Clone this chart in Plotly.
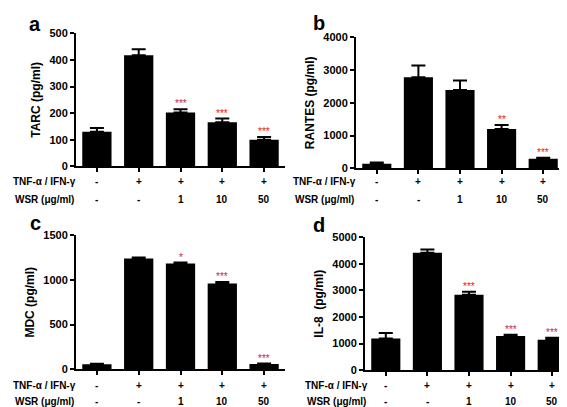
import plotly.graph_objects as go

groups = [0, 1, 2, 3, 4]
tnf_row = ["-", "+", "+", "+", "+"]
wsr_row = ["-", "-", "1", "10", "50"]

tarc = [130, 418, 203, 166, 100]
tarc_err = [14, 22, 12, 14, 10]
tarc_sig = ["", "", "***", "***", "***"]

rantes = [140, 2780, 2390, 1200, 290]
rantes_err = [40, 360, 290, 120, 30]
rantes_sig = ["", "", "", "**", "***"]

mdc = [55, 1240, 1185, 960, 58]
mdc_err = [5, 10, 10, 18, 5]
mdc_sig = ["", "", "*", "***", "***"]

il8 = [1195, 4420, 2840, 1290, 1145]
il8_err = [200, 120, 110, 40, 70]
il8_sig = ["", "", "***", "***", "***"]

W, H = 567, 407
FONT = "Liberation Sans, Arial, sans-serif"

panels = [
    dict(letter="a", vals=tarc, err=tarc_err, sig=tarc_sig, title="TARC (pg/ml)",
         ymax=500, dtick=100, x0=68, x1=277, ytop=20, ybot=157,
         rows_y=(173, 191), lab_x=3, let_xy=(27, 10)),
    dict(letter="b", vals=rantes, err=rantes_err, sig=rantes_sig, title="RANTES (pg/ml)",
         ymax=4000, dtick=1000, x0=348, x1=556, ytop=24, ybot=159,
         rows_y=(173, 191), lab_x=283, let_xy=(311, 9)),
    dict(letter="c", vals=mdc, err=mdc_err, sig=mdc_sig, title="MDC (pg/ml)",
         ymax=1500, dtick=500, x0=68, x1=277, ytop=228, ybot=366,
         rows_y=(383, 399), lab_x=3, let_xy=(27, 215)),
    dict(letter="d", vals=il8, err=il8_err, sig=il8_sig, title="IL-8  (pg/ml)",
         ymax=5000, dtick=1000, x0=357, x1=565, ytop=230, ybot=367,
         rows_y=(383, 399), lab_x=295, let_xy=(311, 217)),
]

fig = go.Figure()
annotations = []
for i, p in enumerate(panels):
    n = i + 1
    xa = "x" if n == 1 else f"x{n}"
    ya = "y" if n == 1 else f"y{n}"
    fig.add_trace(go.Bar(
        x=groups, y=p["vals"], width=0.7, xaxis=xa, yaxis=ya,
        marker=dict(color="black", line=dict(width=0)),
        error_y=dict(type="data", symmetric=False, array=p["err"],
                     arrayminus=[0] * 5, color="black", thickness=2, width=7),
        showlegend=False,
    ))
    axkey = "xaxis" if n == 1 else f"xaxis{n}"
    aykey = "yaxis" if n == 1 else f"yaxis{n}"
    fig.layout[axkey] = dict(
        domain=[p["x0"] / W, p["x1"] / W], range=[-0.5, 4.5], anchor=ya,
        showline=True, linecolor="black", linewidth=2, showgrid=False, zeroline=False,
        ticks="outside", ticklen=4, tickwidth=2, tickcolor="black",
        tickvals=groups, showticklabels=False, fixedrange=True,
    )
    fig.layout[aykey] = dict(
        domain=[1 - p["ybot"] / H, 1 - p["ytop"] / H], range=[0, p["ymax"]], anchor=xa,
        dtick=p["dtick"], showline=True, linecolor="black", linewidth=2,
        showgrid=False, zeroline=False, ticks="outside", ticklen=4, tickwidth=2,
        tickcolor="black", tickfont=dict(family=FONT, size=11, color="black", weight="bold"),
        title=dict(text=p["title"], font=dict(family=FONT, size=12, color="black", weight="bold"),
                   standoff=6),
    )
    # significance stars
    for g, v, e, s in zip(groups, p["vals"], p["err"], p["sig"]):
        if s:
            annotations.append(dict(x=g, y=v + e, xref=xa, yref=ya, text=s, showarrow=False,
                                    yanchor="bottom", yshift=-2,
                                    font=dict(family=FONT, size=10, color="#e3191c")))
    # treatment rows
    for g, t, w in zip(groups, tnf_row, wsr_row):
        annotations.append(dict(x=g, y=1 - p["rows_y"][0] / H, xref=xa, yref="paper", text=t,
                                showarrow=False, yanchor="middle",
                                font=dict(family=FONT, size=10, color="black", weight="bold")))
        annotations.append(dict(x=g, y=1 - p["rows_y"][1] / H, xref=xa, yref="paper", text=w,
                                showarrow=False, yanchor="middle",
                                font=dict(family=FONT, size=10, color="black", weight="bold")))
    annotations.append(dict(x=p["lab_x"] / W, y=1 - p["rows_y"][0] / H, xref="paper", yref="paper",
                            text="TNF-α / IFN-γ", showarrow=False, xanchor="left", yanchor="middle",
                            font=dict(family=FONT, size=10, color="black", weight="bold")))
    annotations.append(dict(x=p["lab_x"] / W + 2 / W, y=1 - p["rows_y"][1] / H, xref="paper", yref="paper",
                            text="WSR (μg/ml)", showarrow=False, xanchor="left", yanchor="middle",
                            font=dict(family=FONT, size=10, color="black", weight="bold")))
    annotations.append(dict(x=p["let_xy"][0] / W, y=1 - p["let_xy"][1] / H, xref="paper", yref="paper",
                            text=p["letter"], showarrow=False, xanchor="center", yanchor="middle",
                            font=dict(family=FONT, size=20, color="black", weight="bold")))

fig.update_layout(
    width=W, height=H, margin=dict(l=0, r=0, t=0, b=0),
    paper_bgcolor="white", plot_bgcolor="white", annotations=annotations,
    bargap=0.3,
)
fig.write_html("out.html")
